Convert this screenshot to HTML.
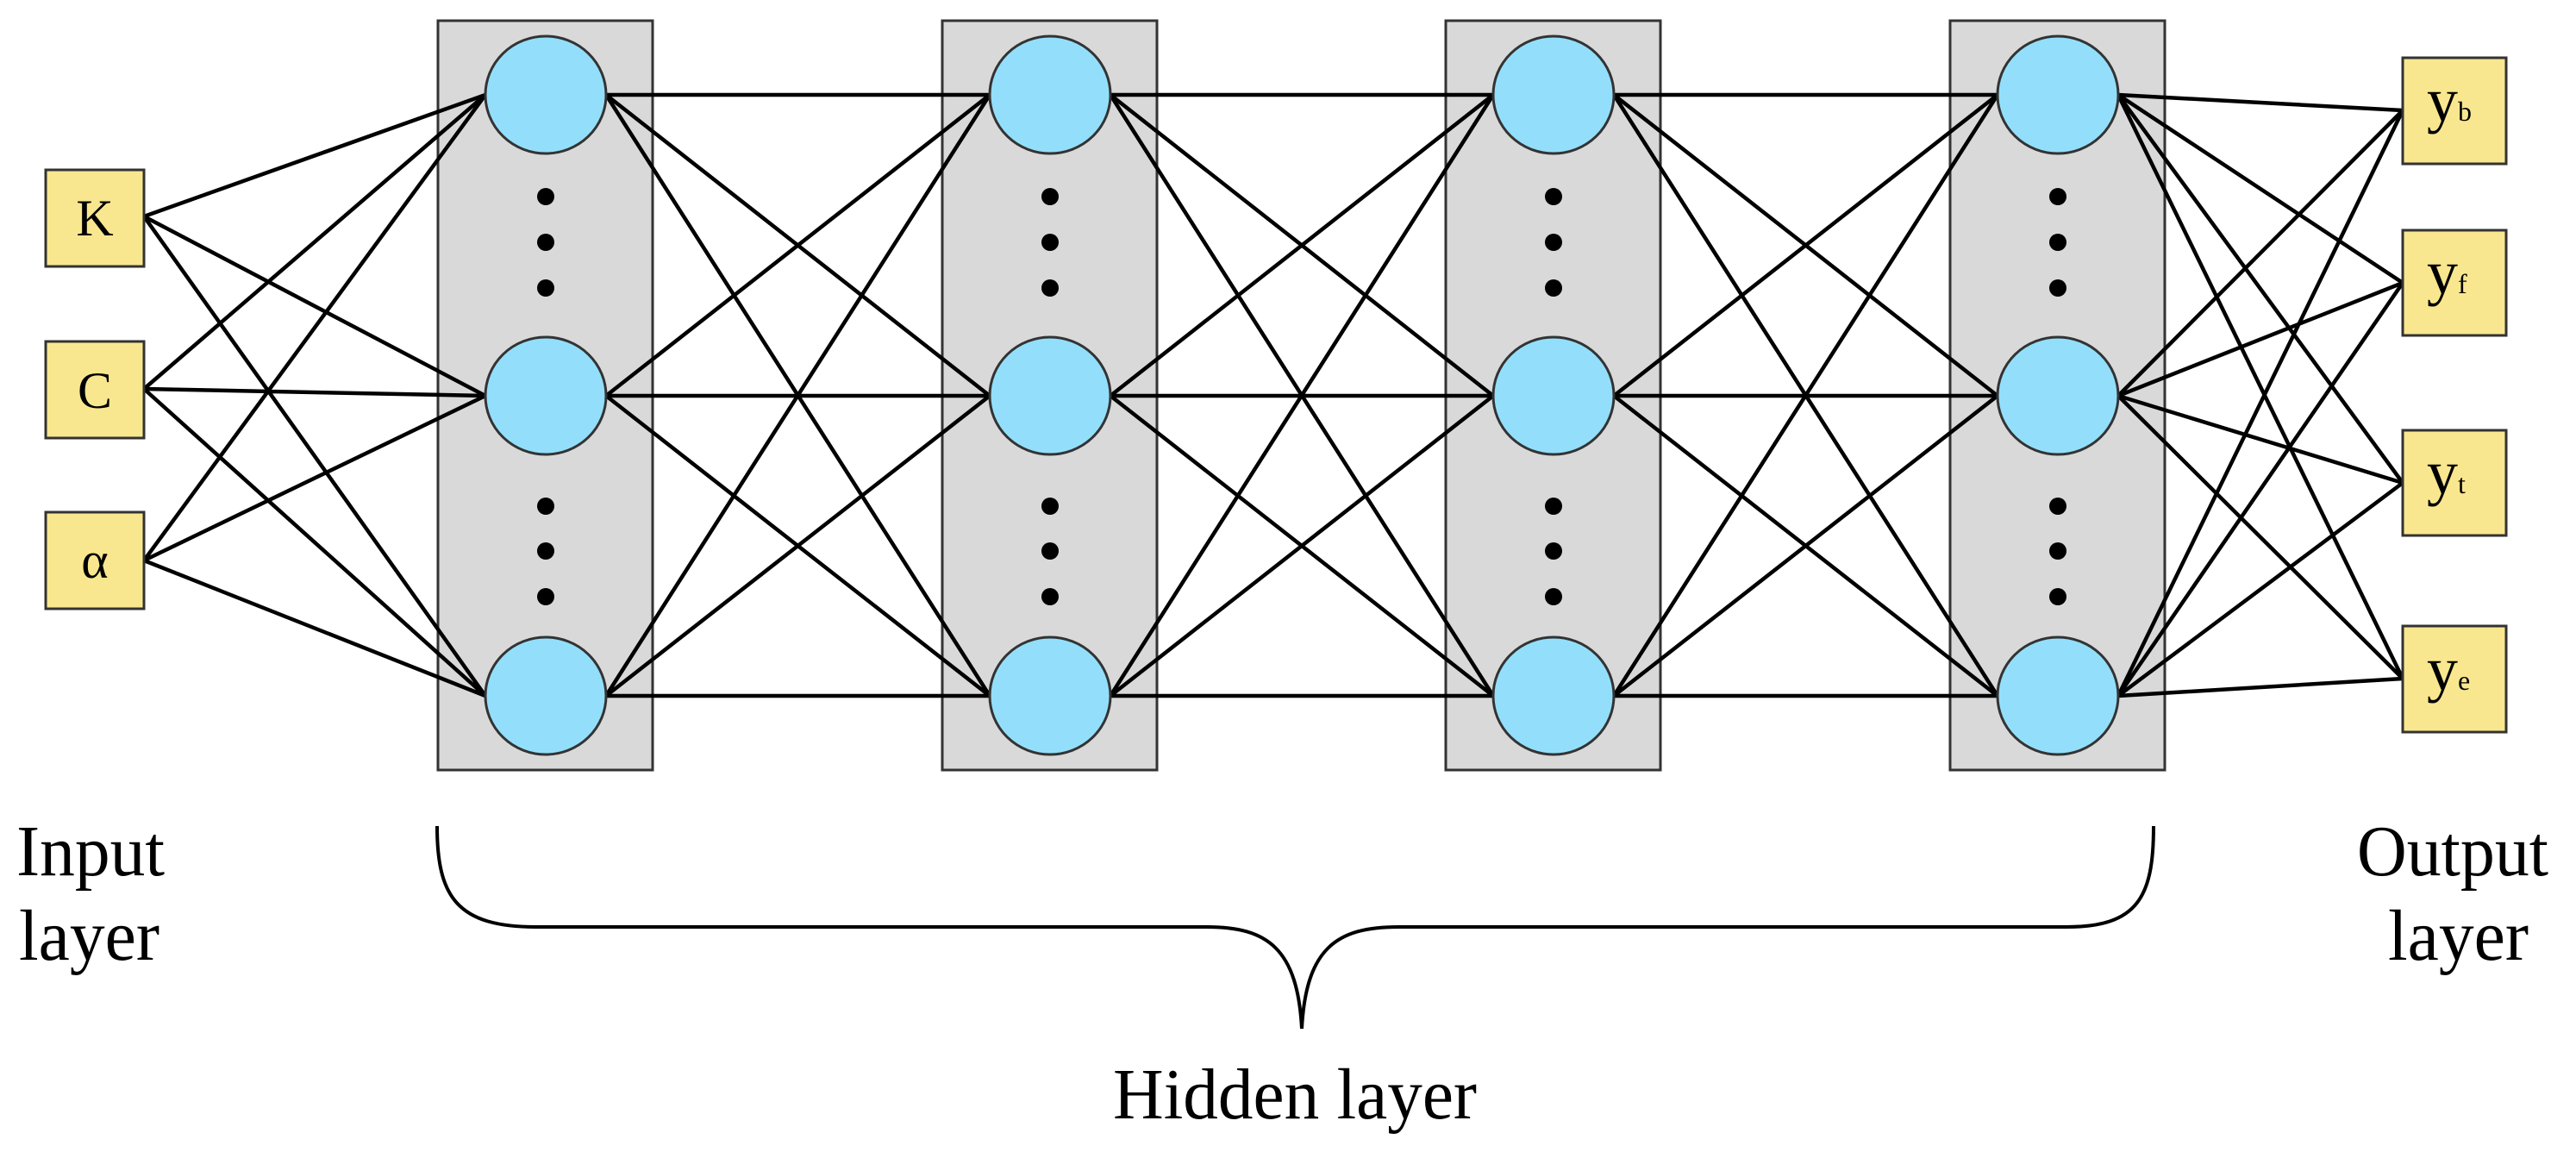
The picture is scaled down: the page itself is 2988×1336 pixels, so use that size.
<!DOCTYPE html>
<html><head><meta charset="utf-8"><style>
html,body{margin:0;padding:0;background:#fff;}
svg{display:block;}
text{font-family:"Liberation Serif",serif;fill:#000;}
</style></head><body>
<svg width="2988" height="1336" viewBox="0 0 2988 1336" xmlns="http://www.w3.org/2000/svg">
<g fill="#d9d9d9" stroke="#333" stroke-width="3">
<rect x="508" y="24" width="249" height="869"/>
<rect x="1093" y="24" width="249" height="869"/>
<rect x="1677" y="24" width="249" height="869"/>
<rect x="2262" y="24" width="249" height="869"/>
</g>
<g stroke="#000" stroke-width="4.5" fill="none">
<path d="M167 251L563 110M167 251L563 459M167 251L563 807M167 451L563 110M167 451L563 459M167 451L563 807M167 650L563 110M167 650L563 459M167 650L563 807"/>
<path d="M703 110L1148 110M703 110L1148 459M703 110L1148 807M703 459L1148 110M703 459L1148 459M703 459L1148 807M703 807L1148 110M703 807L1148 459M703 807L1148 807"/>
<path d="M1288 110L1732 110M1288 110L1732 459M1288 110L1732 807M1288 459L1732 110M1288 459L1732 459M1288 459L1732 807M1288 807L1732 110M1288 807L1732 459M1288 807L1732 807"/>
<path d="M1872 110L2317 110M1872 110L2317 459M1872 110L2317 807M1872 459L2317 110M1872 459L2317 459M1872 459L2317 807M1872 807L2317 110M1872 807L2317 459M1872 807L2317 807"/>
<path d="M2457 110L2787 128M2457 110L2787 328M2457 110L2787 560M2457 110L2787 787M2457 459L2787 128M2457 459L2787 328M2457 459L2787 560M2457 459L2787 787M2457 807L2787 128M2457 807L2787 328M2457 807L2787 560M2457 807L2787 787"/>
</g>
<g fill="#93dffb" stroke="#333" stroke-width="3">
<ellipse cx="633" cy="110" rx="70" ry="68"/><ellipse cx="633" cy="459" rx="70" ry="68"/><ellipse cx="633" cy="807" rx="70" ry="68"/>
<ellipse cx="1218" cy="110" rx="70" ry="68"/><ellipse cx="1218" cy="459" rx="70" ry="68"/><ellipse cx="1218" cy="807" rx="70" ry="68"/>
<ellipse cx="1802" cy="110" rx="70" ry="68"/><ellipse cx="1802" cy="459" rx="70" ry="68"/><ellipse cx="1802" cy="807" rx="70" ry="68"/>
<ellipse cx="2387" cy="110" rx="70" ry="68"/><ellipse cx="2387" cy="459" rx="70" ry="68"/><ellipse cx="2387" cy="807" rx="70" ry="68"/>
</g>
<g fill="#000">
<circle cx="633" cy="228" r="10"/><circle cx="633" cy="281" r="10"/><circle cx="633" cy="334" r="10"/>
<circle cx="633" cy="587" r="10"/><circle cx="633" cy="639" r="10"/><circle cx="633" cy="692" r="10"/>
<circle cx="1218" cy="228" r="10"/><circle cx="1218" cy="281" r="10"/><circle cx="1218" cy="334" r="10"/>
<circle cx="1218" cy="587" r="10"/><circle cx="1218" cy="639" r="10"/><circle cx="1218" cy="692" r="10"/>
<circle cx="1802" cy="228" r="10"/><circle cx="1802" cy="281" r="10"/><circle cx="1802" cy="334" r="10"/>
<circle cx="1802" cy="587" r="10"/><circle cx="1802" cy="639" r="10"/><circle cx="1802" cy="692" r="10"/>
<circle cx="2387" cy="228" r="10"/><circle cx="2387" cy="281" r="10"/><circle cx="2387" cy="334" r="10"/>
<circle cx="2387" cy="587" r="10"/><circle cx="2387" cy="639" r="10"/><circle cx="2387" cy="692" r="10"/>
</g>
<g fill="#f9e78f" stroke="#333" stroke-width="3">
<rect x="53" y="197" width="114" height="112"/>
<rect x="53" y="396" width="114" height="112"/>
<rect x="53" y="594" width="114" height="112"/>
<rect x="2787" y="67" width="120" height="123"/>
<rect x="2787" y="267" width="120" height="122"/>
<rect x="2787" y="499" width="120" height="122"/>
<rect x="2787" y="726" width="120" height="123"/>
</g>
<g font-size="60" text-anchor="middle">
<text x="110" y="273">K</text>
<text x="110" y="473">C</text>
<text x="110" y="670">α</text>
</g>
<g font-size="72">
<text x="2815" y="140">y<tspan font-size="32">b</tspan></text>
<text x="2815" y="340">y<tspan font-size="32">f</tspan></text>
<text x="2815" y="572">y<tspan font-size="32">t</tspan></text>
<text x="2815" y="800">y<tspan font-size="32">e</tspan></text>
</g>
<path d="M507 958 C507 1040 530 1075 622 1075 L1400 1075 C1470 1075 1505 1100 1510 1193 C1515 1100 1550 1075 1622 1075 L2397 1075 C2480 1075 2498 1040 2498 958" fill="none" stroke="#000" stroke-width="4"/>
<g font-size="84">
<text x="19" y="1015" textLength="172" lengthAdjust="spacingAndGlyphs">Input</text>
<text x="22" y="1113" textLength="163" lengthAdjust="spacingAndGlyphs">layer</text>
<text x="1291" y="1297" textLength="422" lengthAdjust="spacingAndGlyphs">Hidden layer</text>
<text x="2734" y="1015" textLength="222" lengthAdjust="spacingAndGlyphs">Output</text>
<text x="2770" y="1113" textLength="163" lengthAdjust="spacingAndGlyphs">layer</text>
</g>
</svg>
</body></html>
